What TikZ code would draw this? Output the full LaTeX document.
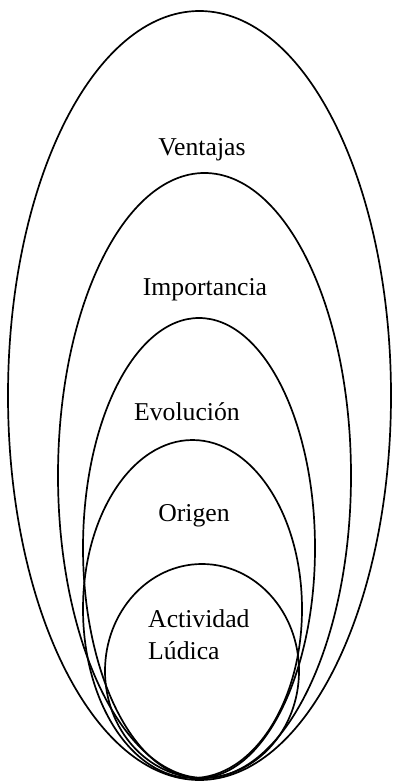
\documentclass[tikz,border=0pt]{standalone}
\usepackage{fontspec}
\setmainfont{Liberation Serif}
\begin{document}
\begin{tikzpicture}[x=1pt, y=-1pt, ring/.style={line width=1.7pt},
    lbl/.style={font=\fontsize{25.7}{32}\selectfont, inner sep=0pt}]
    \useasboundingbox (0, 0) rectangle (393, 783);
    \coordinate (V) at (199.5, 395.5);
    \coordinate (I) at (204.5, 475.5);
    \coordinate (E) at (199, 548);
    \coordinate (O) at (192.5, 609);
    \coordinate (A) at (202, 671);
    \draw[ring] (V) ellipse (191.5pt and 384.5pt);
    \draw[ring] (I) ellipse (146.5pt and 302.5pt);
    \draw[ring] (E) ellipse (116pt and 230pt);
    \draw[ring] (O) ellipse (109.5pt and 169pt);
    \draw[ring] (A) ellipse (97pt and 107pt);
    \node[lbl, anchor=base] (ventajas) at (202, 156) {Ventajas};
    \node[lbl, anchor=base] (importancia) at (205, 295) {Importancia};
    \node[lbl, anchor=base] (evolucion) at (187, 420) {Evolución};
    \node[lbl, anchor=base] (origen) at (194, 521) {Origen};
    \node[lbl, anchor=base west] (actividad) at (148, 627) {Actividad};
    \node[lbl, anchor=base west] (ludica) at (148, 659) {Lúdica};
  \end{tikzpicture}
\end{document}
